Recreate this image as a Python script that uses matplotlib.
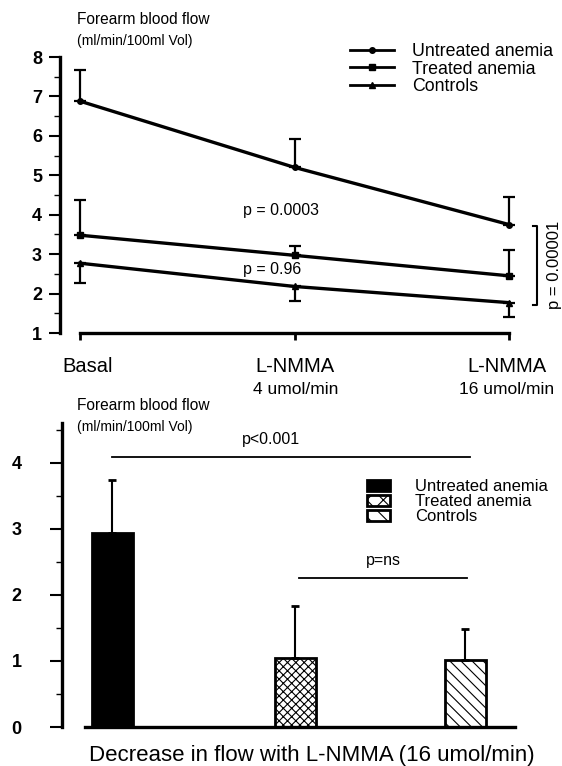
import numpy as np
import matplotlib
matplotlib.use('Agg')
import matplotlib.pyplot as plt
from matplotlib.lines import Line2D
from matplotlib.patches import Patch
import matplotlib.transforms as mtrans

plt.rcParams['font.family'] = ['Liberation Sans', 'DejaVu Sans']
plt.rcParams['hatch.linewidth'] = 0.8

# top panel: forearm blood flow during L-NMMA infusion
stages = ['Basal', 'L-NMMA', 'L-NMMA']
doses = ['', '4 umol/min', '16 umol/min']
groups = ['Untreated anemia', 'Treated anemia', 'Controls']
untreated = [6.88, 5.2, 3.75]
untreated_err = [0.8, 0.73, 0.7]
treated = [3.48, 2.97, 2.45]
treated_err = [0.9, 0.23, 0.65]
controls = [2.77, 2.18, 1.77]
controls_err = [0.5, 0.38, 0.37]

# bottom panel: decrease in flow with 16 umol/min
decrease = [2.93, 1.04, 1.02]
decrease_err = [0.81, 0.79, 0.47]

fig = plt.figure(figsize=(5.62, 7.66), dpi=100)

### top panel
ax = fig.add_axes([60/562, (766-333)/766, (562-60)/562, (333-57)/766])
x = np.arange(3)
lw = 2.4
ax.errorbar(x, untreated, yerr=[np.zeros(3), untreated_err], color='k', lw=lw,
            marker='o', ms=4, capsize=4, elinewidth=1.6, capthick=1.6)
ax.errorbar(x, treated, yerr=[np.zeros(3), treated_err], color='k', lw=lw,
            marker='s', ms=4, capsize=4, elinewidth=1.6, capthick=1.6)
ax.errorbar(x, controls, yerr=[controls_err, np.zeros(3)], color='k', lw=lw,
            marker='^', ms=4, capsize=4, elinewidth=1.6, capthick=1.6)

ax.set_xlim(-20/214.5, (562-80)/214.5)
ax.set_ylim(1, 8)
for s in ['top', 'right']:
    ax.spines[s].set_visible(False)
ax.spines['left'].set_linewidth(2.4)
ax.spines['bottom'].set_linewidth(2.4)
ax.spines['left'].set_bounds(1, 8)
ax.spines['bottom'].set_bounds(0, 2)
ax.set_yticks(range(1, 9))
ax.set_yticks(np.arange(1.5, 8, 1), minor=True)
ax.tick_params(axis='y', which='major', length=8, width=1.5, pad=5, labelsize=13)
ax.tick_params(axis='y', which='minor', length=4, width=1)
for t in ax.get_yticklabels():
    t.set_fontweight('bold')
ax.set_xticks(x)
ax.set_xticklabels([])
ax.tick_params(axis='x', length=5, width=2)

tr = mtrans.blended_transform_factory(ax.transData, fig.transFigure)
label_dx = [0.035, 0.0, -0.01]
dose_dx = [0.0, 0.005, -0.01]
for i in range(3):
    ax.text(x[i] + label_dx[i], (766-367)/766, stages[i], transform=tr,
            ha='center', va='center', fontsize=14.5)
    if doses[i]:
        ax.text(x[i] + dose_dx[i], (766-389)/766, doses[i], transform=tr,
                ha='center', va='center', fontsize=12.5)

fig.text(77/562, (766-19)/766, 'Forearm blood flow', fontsize=11.2, va='center')
fig.text(77/562, (766-41)/766, '(ml/min/100ml Vol)', fontsize=10, va='center')

ax.text((281-80)/214.5, 4.1, 'p = 0.0003', fontsize=11.5, ha='center', va='center')
ax.text((272-80)/214.5, 2.6, 'p = 0.96', fontsize=11.5, ha='center', va='center')
bx = (537-80)/214.5
ax.plot([bx - 0.02, bx, bx, bx - 0.02], [3.72, 3.72, 1.7, 1.7], color='k', lw=1.5, clip_on=False)
ax.text((555-80)/214.5, 2.72, 'p = 0.00001', rotation=90, fontsize=12, ha='center', va='center')

handles = [Line2D([], [], color='k', lw=2, marker=m, ms=4) for m in ['o', 's', '^']]
ax.legend(handles, groups, loc='upper left', bbox_to_anchor=((350-60)/502, (333-43)/276),
          frameon=False, fontsize=12.8, handlelength=2.5, handletextpad=1.0,
          labelspacing=0.03, borderaxespad=0, borderpad=0)

### bottom panel
ax2 = fig.add_axes([62/562, (766-727)/766, (562-62)/562, (727-423)/766])
bar_x = [0, 1, 1.93]
ppu = 183
hatches = ['', 'xxxx', '\\\\\\']
colors = ['k', 'w', 'w']
bars = ax2.bar(bar_x, decrease, width=41/ppu, color=colors, edgecolor='k', linewidth=2)
for b, h in zip(bars, hatches):
    b.set_hatch(h)
ax2.errorbar(bar_x, decrease, yerr=[np.zeros(3), decrease_err], fmt='none', ecolor='k',
             elinewidth=1.5, capsize=3, capthick=2)
ax2.set_xlim((62-112)/ppu, (562-112)/ppu)
ax2.set_ylim(0, 4.6)
for s in ['top', 'right']:
    ax2.spines[s].set_visible(False)
ax2.spines['left'].set_linewidth(2.4)
ax2.spines['bottom'].set_linewidth(2.4)
ax2.spines['left'].set_bounds(0, 4.6)
ax2.spines['bottom'].set_bounds((85-112)/ppu, (515-112)/ppu)
ax2.set_yticks(range(0, 5))
ax2.set_yticks(np.arange(0.5, 4.6, 1), minor=True)
ax2.tick_params(axis='y', which='major', length=9, width=1.5, pad=20, labelsize=13)
ax2.tick_params(axis='y', which='minor', length=4, width=1)
for t in ax2.get_yticklabels():
    t.set_fontweight('bold')
ax2.set_xticks([])

ax2.plot([0, (470-112)/ppu], [4.09, 4.09], color='k', lw=1.3)
ax2.text((271-112)/ppu, 4.35, 'p<0.001', fontsize=11.5, ha='center', va='center')
ax2.plot([(299-112)/ppu, (467-112)/ppu], [2.25, 2.25], color='k', lw=1.3)
ax2.text((383-112)/ppu, 2.52, 'p=ns', fontsize=11.5, ha='center', va='center')

fig.text(77/562, (766-406)/766, 'Forearm blood flow', fontsize=11.2, va='center')
fig.text(77/562, (766-427)/766, '(ml/min/100ml Vol)', fontsize=10, va='center')
fig.text(312/562, (766-755)/766, 'Decrease in flow with L-NMMA (16 umol/min)',
         fontsize=16, ha='center', va='center')

phandles = [Patch(facecolor=c, edgecolor='k', linewidth=2, hatch=h)
            for c, h in zip(colors, ['', 'xx', '\\\\'])]
ax2.legend(phandles, groups, loc='upper left', bbox_to_anchor=((367-62)/500, (727-479)/304),
           frameon=False, fontsize=12, handlelength=1.4, handleheight=0.65,
           handletextpad=1.5, labelspacing=0.0, borderaxespad=0, borderpad=0)

fig.savefig('out.png', dpi=100)
